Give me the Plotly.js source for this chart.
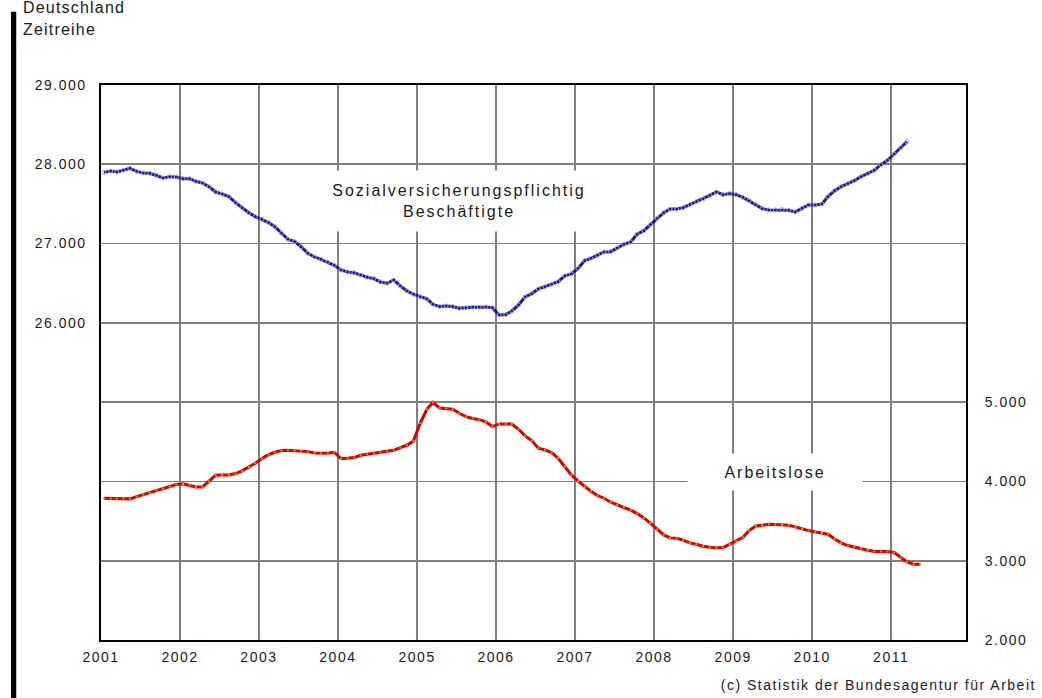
<!DOCTYPE html>
<html>
<head>
<meta charset="utf-8">
<script src="https://cdn.plot.ly/plotly-3.0.1.min.js"></script>
<style>
  html, body { margin: 0; padding: 0; background: #ffffff; }
  #chart { width: 1042px; height: 698px; }
  #chart text { letter-spacing: 1.5px; }
  #chart .annotation-text.spaced2 { letter-spacing: 2px; }
  #chart .annotation-text.spaced1 { letter-spacing: 1.2px; }
</style>
</head>
<body>
<div id="chart"></div>
<script>
// Monthly series, starting January 2001 (values in thousands)
const startYear = 2001;
const beschaeftigte = [
  27898, 27915, 27903, 27924, 27949, 27911, 27890, 27886, 27861, 27827, 27844, 27840,
  27819, 27819, 27785, 27764, 27718, 27650, 27625, 27592, 27516, 27453, 27390, 27340,
  27306, 27264, 27213, 27129, 27054, 27024, 26961, 26877, 26831, 26801, 26768, 26726,
  26667, 26642, 26633, 26604, 26575, 26558, 26516, 26499, 26541, 26466, 26403, 26361,
  26327, 26302, 26234, 26205, 26213, 26205, 26184, 26192, 26197, 26197, 26201, 26192,
  26100, 26104, 26150, 26226, 26327, 26369, 26428, 26457, 26487, 26520, 26592, 26617,
  26688, 26785, 26814, 26852, 26894, 26898, 26945, 26991, 27020, 27117, 27163, 27240,
  27319, 27390, 27436, 27436, 27453, 27491, 27529, 27562, 27609, 27651, 27617, 27630,
  27617, 27583, 27541, 27491, 27441, 27424, 27424, 27428, 27420, 27399, 27445, 27487,
  27487, 27499, 27592, 27668, 27718, 27756, 27794, 27844, 27882, 27924, 27995, 28050,
  28130, 28210, 28285
];
const arbeitslose = [
  3788, 3784, 3784, 3784, 3780, 3809, 3834, 3855, 3885, 3910, 3935, 3960,
  3969, 3952, 3931, 3931, 4002, 4078, 4082, 4082, 4099, 4133, 4183, 4229,
  4288, 4339, 4368, 4389, 4393, 4389, 4389, 4376, 4360, 4355, 4355, 4368,
  4288, 4292, 4301, 4330, 4343, 4355, 4368, 4376, 4393, 4427, 4456, 4511,
  4734, 4910, 4998, 4927, 4923, 4910, 4860, 4818, 4793, 4780, 4751, 4692,
  4725, 4725, 4725, 4658, 4574, 4515, 4419, 4398, 4364, 4293, 4187, 4082,
  4003, 3931, 3877, 3822, 3788, 3738, 3704, 3679, 3637, 3595, 3540, 3473,
  3397, 3326, 3288, 3284, 3259, 3225, 3208, 3183, 3170, 3162, 3166, 3208,
  3246, 3296, 3380, 3439, 3448, 3460, 3456, 3452, 3448, 3427, 3402, 3380,
  3364, 3351, 3334, 3275, 3225, 3191, 3175, 3158, 3133, 3116, 3116, 3116,
  3103, 3040, 2985, 2956, 2956
];
const yearLabels = ['2001','2002','2003','2004','2005','2006','2007','2008','2009','2010','2011'];
const leftTickVals = [22000, 23000, 24000, 25000, 26000, 27000, 28000, 29000];
const leftTickText = ['', '', '', '', '26.000', '27.000', '28.000', '29.000'];
const rightTickVals = [2000, 3000, 4000, 5000];
const rightTickText = ['2.000', '3.000', '4.000', '5.000'];
const seriesNames = ['Sozialversicherungspflichtig<br>Beschäftigte', 'Arbeitslose'];

function monthDates(n) {
  const out = [];
  for (let i = 0; i < n; i++) {
    const y = startYear + Math.floor(i / 12);
    const m = (i % 12) + 1;
    out.push(y + '-' + String(m).padStart(2, '0') + '-15');
  }
  return out;
}

const FONT = 'Liberation Sans, Arial, sans-serif';
const TXT = '#1a1a1a';

const traces = [
  {
    x: monthDates(beschaeftigte.length), y: beschaeftigte, yaxis: 'y',
    type: 'scatter', mode: 'lines+markers', name: 'Beschäftigte',
    line: { color: '#1c1c8a', width: 3 },
    marker: { symbol: 'circle-open', size: 4, color: '#a0a0ee', line: { width: 1 } },
    hoverinfo: 'x+y'
  },
  {
    x: monthDates(arbeitslose.length), y: arbeitslose, yaxis: 'y2',
    type: 'scatter', mode: 'lines+markers', name: 'Arbeitslose',
    line: { color: '#da0000', width: 3 },
    marker: { symbol: 'circle', size: 2.2, color: '#ff9000' },
    hoverinfo: 'x+y'
  }
];

const layout = {
  width: 1042, height: 698,
  margin: { l: 101, r: 76, t: 85, b: 58, pad: 0 },
  paper_bgcolor: '#ffffff', plot_bgcolor: '#ffffff',
  showlegend: false,
  font: { family: FONT, size: 14, color: TXT },
  xaxis: {
    type: 'date',
    range: ['2001-01-01', '2011-12-13'],
    tickvals: yearLabels.map(y => y + '-01-01'),
    ticktext: yearLabels,
    showgrid: true, gridcolor: '#7f7f7f', gridwidth: 1.6,
    showline: true, linecolor: '#000000', linewidth: 1.6, mirror: true,
    ticks: 'outside', ticklen: 4, tickcolor: 'rgba(0,0,0,0)',
    zeroline: false,
    tickfont: { family: FONT, size: 14, color: TXT }
  },
  yaxis: {
    range: [22000, 29000],
    tickvals: leftTickVals, ticktext: leftTickText,
    showgrid: true, gridcolor: '#7f7f7f', gridwidth: 1.6,
    showline: true, linecolor: '#000000', linewidth: 1.6, mirror: true,
    ticks: 'outside', ticklen: 10, tickcolor: 'rgba(0,0,0,0)',
    zeroline: false,
    tickfont: { family: FONT, size: 14, color: TXT }
  },
  yaxis2: {
    range: [2000, 9000], overlaying: 'y', side: 'right',
    tickvals: rightTickVals, ticktext: rightTickText,
    showgrid: false, zeroline: false, showline: false,
    ticks: 'outside', ticklen: 15, tickcolor: 'rgba(0,0,0,0)',
    tickfont: { family: FONT, size: 14, color: TXT }
  },
  shapes: [
    { type: 'rect', xref: 'paper', yref: 'paper', x0: -0.104, x1: -0.098, y0: -0.12, y1: 1.132,
      fillcolor: '#000000', line: { width: 0 }, layer: 'above' }
  ],
  annotations: [
    { text: seriesNames[0], xref: 'x', yref: 'y', x: '2005-07-15', y: 27537,
      showarrow: false, bgcolor: '#ffffff', width: 262, height: 58,
      font: { family: FONT, size: 16, color: TXT }, align: 'center' },
    { text: seriesNames[1], xref: 'x', yref: 'y2', x: '2009-07-12', y: 4120,
      showarrow: false, bgcolor: '#ffffff', width: 172, height: 34,
      font: { family: FONT, size: 16, color: TXT }, align: 'center' },
    { text: 'Deutschland', xref: 'paper', yref: 'paper', x: -0.0925, y: 1.139,
      xanchor: 'left', yanchor: 'middle', showarrow: false, width: 110, align: 'left',
      font: { family: FONT, size: 16, color: TXT } },
    { text: 'Zeitreihe', xref: 'paper', yref: 'paper', x: -0.0925, y: 1.100,
      xanchor: 'left', yanchor: 'middle', showarrow: false, width: 110, align: 'left',
      font: { family: FONT, size: 16, color: TXT } },
    { text: '(c) Statistik der Bundesagentur für Arbeit', xref: 'paper', yref: 'paper',
      x: 1.083, y: -0.081, xanchor: 'right', yanchor: 'middle', showarrow: false,
      width: 345, align: 'right',
      font: { family: FONT, size: 14, color: TXT } }
  ]
};

Plotly.newPlot('chart', traces, layout, { displayModeBar: false, staticPlot: true }).then(() => {
  const labels = document.querySelectorAll('#chart .annotation-text');
  labels.forEach((el, i) => {
    if (i < 2) el.classList.add('spaced2');
    else if (i < 4) el.classList.add('spaced1');
  });
});
</script>
</body>
</html>
